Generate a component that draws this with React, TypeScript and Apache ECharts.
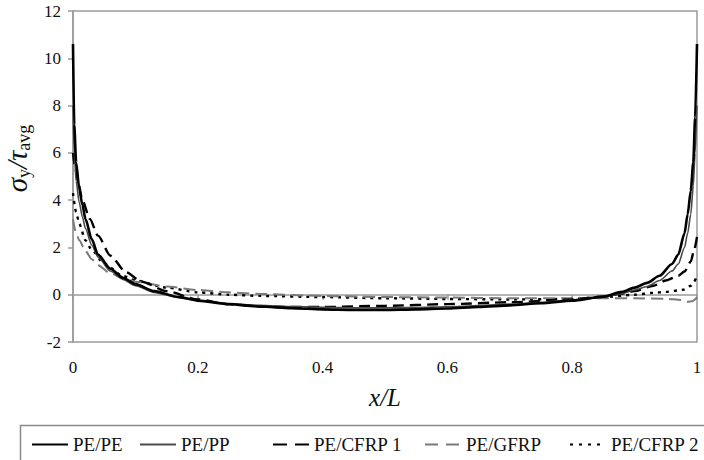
import React, { useEffect, useRef } from "react";
import * as echarts from "echarts";

const seriesNames = ["PE/PE", "PE/PP", "PE/CFRP 1", "PE/GFRP", "PE/CFRP 2"];

const xTicks = [0, 0.2, 0.4, 0.6, 0.8, 1];
const yTicks = [-2, 0, 2, 4, 6, 8, 10, 12];

const xPEPE = [0, 0.002, 0.005, 0.01, 0.015, 0.02, 0.03, 0.04, 0.06, 0.08, 0.1, 0.13, 0.17, 0.2, 0.25, 0.3, 0.35, 0.4, 0.45, 0.5, 0.55, 0.6, 0.65, 0.7, 0.75, 0.8, 0.85, 0.88, 0.9, 0.92, 0.94, 0.96, 0.97, 0.98, 0.985, 0.99, 0.994, 0.997, 1];
const yPEPE = [10.6, 7.2, 5.6, 4.5, 3.8, 3.2, 2.35, 1.7, 1.1, 0.72, 0.45, 0.15, -0.1, -0.25, -0.4, -0.5, -0.57, -0.62, -0.64, -0.64, -0.62, -0.58, -0.52, -0.45, -0.36, -0.25, -0.08, 0.12, 0.3, 0.5, 0.8, 1.3, 1.7, 2.6, 3.4, 4.4, 5.6, 7.5, 10.6];

const xPEPP = [0, 0.002, 0.005, 0.01, 0.015, 0.02, 0.03, 0.04, 0.06, 0.08, 0.1, 0.13, 0.17, 0.2, 0.25, 0.3, 0.35, 0.4, 0.45, 0.5, 0.55, 0.6, 0.65, 0.7, 0.75, 0.8, 0.85, 0.88, 0.9, 0.92, 0.94, 0.96, 0.97, 0.98, 0.985, 0.99, 0.994, 0.997, 1];
const yPEPP = [8.0, 6.0, 4.8, 3.9, 3.3, 2.8, 2.1, 1.6, 1.0, 0.65, 0.38, 0.1, -0.12, -0.25, -0.38, -0.45, -0.5, -0.53, -0.55, -0.55, -0.54, -0.51, -0.46, -0.4, -0.32, -0.22, -0.1, 0.05, 0.2, 0.35, 0.6, 1.0, 1.3, 2.0, 2.6, 3.4, 4.6, 6.0, 8.0];

const xCFRP1 = [0, 0.004, 0.008, 0.015, 0.027, 0.04, 0.06, 0.085, 0.11, 0.15, 0.2, 0.25, 0.3, 0.35, 0.4, 0.5, 0.6, 0.7, 0.8, 0.85, 0.88, 0.9, 0.93, 0.95, 0.97, 0.98, 0.99, 0.995, 1];
const yCFRP1 = [6.0, 5.3, 4.8, 4.0, 3.2, 2.5, 1.65, 0.95, 0.55, 0.15, -0.2, -0.4, -0.5, -0.52, -0.52, -0.47, -0.4, -0.32, -0.2, -0.08, 0.05, 0.15, 0.38, 0.6, 0.8, 0.98, 1.4, 1.85, 2.45];

const xGFRP = [0, 0.005, 0.01, 0.02, 0.03, 0.04, 0.06, 0.08, 0.1, 0.15, 0.2, 0.25, 0.3, 0.4, 0.5, 0.6, 0.7, 0.8, 0.85, 0.9, 0.95, 0.975, 0.985, 0.992, 1];
const yGFRP = [3.2, 2.6, 2.3, 1.85, 1.5, 1.25, 0.9, 0.7, 0.55, 0.35, 0.2, 0.1, 0.03, -0.05, -0.1, -0.12, -0.15, -0.15, -0.15, -0.15, -0.17, -0.22, -0.3, -0.28, -0.12];

const xCFRP2 = [0, 0.005, 0.01, 0.02, 0.03, 0.05, 0.08, 0.1, 0.15, 0.2, 0.25, 0.3, 0.4, 0.5, 0.6, 0.7, 0.8, 0.85, 0.9, 0.93, 0.95, 0.97, 0.98, 0.99, 0.995, 1];
const yCFRP2 = [4.3, 3.5, 3.0, 2.3, 1.9, 1.3, 0.8, 0.6, 0.3, 0.1, 0.0, -0.05, -0.1, -0.15, -0.18, -0.2, -0.18, -0.1, 0.0, 0.08, 0.12, 0.18, 0.22, 0.38, 0.55, 0.78];

const zip = (xs: number[], ys: number[]) => xs.map((x, i) => [x, ys[i]]);

const SERIF = "Liberation Serif";
const AXIS_GREY = "#9a9a9a";

export default function App() {
  const ref = useRef<HTMLDivElement>(null);

  useEffect(() => {
    if (!ref.current) return;
    const chart = echarts.init(ref.current, null, { renderer: "svg" });

    const styles = [
      { color: "#000000", width: 2.6, type: "solid" as any },
      { color: "#4a4a4a", width: 1.6, type: "solid" as any },
      { color: "#000000", width: 2.4, type: [11, 6] as any },
      { color: "#7a7a7a", width: 2.0, type: [12, 6] as any },
      { color: "#000000", width: 2.4, type: [3, 5] as any },
    ];
    const datas = [
      zip(xPEPE, yPEPE),
      zip(xPEPP, yPEPP),
      zip(xCFRP1, yCFRP1),
      zip(xGFRP, yGFRP),
      zip(xCFRP2, yCFRP2),
    ];

    const legendLefts = [31, 139, 272, 424, 569];
    const legendTypes: any[] = ["solid", "solid", [14, 8], [13, 8], [3, 6]];

    const option: any = {
      animation: false,
      backgroundColor: "#ffffff",
      grid: {
        left: 73,
        right: 7,
        top: 11,
        bottom: 118,
        show: true,
        borderColor: AXIS_GREY,
        borderWidth: 1.5,
        containLabel: false,
        outerBoundsMode: "none",
      },
      xAxis: {
        type: "value",
        min: xTicks[0],
        max: xTicks[xTicks.length - 1],
        interval: 0.2,
        name: "x/L",
        nameLocation: "middle",
        nameGap: 43,
        nameTextStyle: {
          fontFamily: SERIF,
          fontStyle: "italic",
          fontSize: 25,
          color: "#111",
        },
        axisLine: { show: true, lineStyle: { color: AXIS_GREY, width: 1.5 } },
        axisTick: { show: true, inside: false, length: 5, lineStyle: { color: AXIS_GREY, width: 1.5 } },
        splitLine: { show: false },
        axisLabel: {
          fontFamily: SERIF,
          fontSize: 17,
          color: "#111",
          margin: 17,
        },
      },
      yAxis: {
        type: "value",
        min: yTicks[0],
        max: yTicks[yTicks.length - 1],
        interval: 2,
        name: "{i|σ}{s|y}{i|/τ}{s|avg}",
        nameLocation: "middle",
        nameRotate: 90,
        nameGap: 38,
        nameTextStyle: {
          padding: [0, 0, 0, 36],
          rich: {
            i: {
              fontFamily: SERIF,
              fontStyle: "italic",
              fontSize: 29,
              color: "#111",
              lineHeight: 32,
              verticalAlign: "middle",
            },
            s: {
              fontFamily: SERIF,
              fontSize: 18,
              color: "#111",
              lineHeight: 18,
              verticalAlign: "bottom",
            },
          },
        },
        axisLine: { show: true, lineStyle: { color: AXIS_GREY, width: 1.5 } },
        axisTick: { show: true, inside: false, length: 5, lineStyle: { color: AXIS_GREY, width: 1.5 } },
        splitLine: { show: false },
        axisLabel: {
          fontFamily: SERIF,
          fontSize: 17,
          color: "#111",
          margin: 12,
        },
      },
      legend: seriesNames.map((name, i) => ({
        show: true,
        data: [name],
        left: legendLefts[i],
        top: 435,
        orient: "horizontal",
        itemWidth: 36,
        itemHeight: 14,
        padding: 0,
        itemStyle: { opacity: 0 },
        lineStyle: { type: legendTypes[i] },
        textStyle: { fontFamily: SERIF, fontSize: 19, color: "#111" },
        selectedMode: false,
      })),
      graphic: [
        {
          type: "rect",
          left: 18,
          top: 423,
          shape: { x: 0, y: 0, width: 700, height: 60 },
          style: { fill: "none", stroke: "#8a8a8a", lineWidth: 1.5 },
          silent: true,
        },
      ],
      series: seriesNames.map((name, i) => ({
        name,
        type: "line",
        data: datas[i],
        showSymbol: false,
        symbol: "none",
        smooth: 0.25,
        smoothMonotone: "x",
        clip: true,
        color: styles[i].color,
        lineStyle: {
          color: styles[i].color,
          width: styles[i].width,
          type: styles[i].type,
        },
        z: 5 - i,
      })),
    };

    chart.setOption(option);
    return () => chart.dispose();
  }, []);

  return (
    <div
      ref={ref}
      style={{ position: "fixed", left: 0, top: 0, width: 704, height: 460, background: "#fff" }}
    />
  );
}
